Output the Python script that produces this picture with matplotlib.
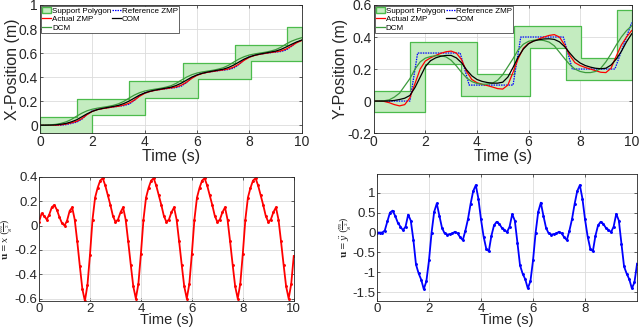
import numpy as np
import matplotlib
matplotlib.use("Agg")
import matplotlib.pyplot as plt
from matplotlib.patches import Patch

plt.rcParams['font.family'] = ['Liberation Sans', 'DejaVu Sans']
plt.rcParams['mathtext.fontset'] = 'dejavuserif'

# ---- footsteps (support polygon) ----
foot_t0 = [0.0, 1.4, 3.4, 5.45, 7.45, 9.45]
foot_t1 = [2.0, 4.0, 6.05, 8.05, 10.0, 10.0]
foot_x_lo = [-0.07, 0.085, 0.23, 0.385, 0.535, 0.68]
foot_x_hi = [0.07, 0.22, 0.37, 0.52, 0.67, 0.82]
foot_y_lo = [-0.065, 0.23, 0.03, 0.33, 0.13, 0.43]
foot_y_hi = [0.065, 0.37, 0.17, 0.47, 0.27, 0.57]

# ---- trajectories, sampled every 0.2 s ----
t_top = np.linspace(0, 10, 51)

com_x = [0.000, 0.000, 0.001, 0.003, 0.008, 0.015, 0.028, 0.045, 0.070, 0.095,
         0.115, 0.130, 0.140, 0.148, 0.156, 0.165, 0.180, 0.200, 0.225, 0.250,
         0.268, 0.282, 0.292, 0.300, 0.308, 0.316, 0.330, 0.350, 0.375, 0.400,
         0.418, 0.432, 0.442, 0.450, 0.458, 0.466, 0.480, 0.500, 0.525, 0.550,
         0.568, 0.582, 0.592, 0.600, 0.608, 0.616, 0.630, 0.650, 0.672, 0.692,
         0.708]
dcm_x = [0.000, 0.001, 0.003, 0.007, 0.015, 0.028, 0.048, 0.075, 0.100, 0.120,
         0.133, 0.142, 0.149, 0.156, 0.165, 0.178, 0.198, 0.225, 0.250, 0.270,
         0.284, 0.293, 0.300, 0.307, 0.316, 0.328, 0.348, 0.375, 0.400, 0.420,
         0.434, 0.443, 0.450, 0.457, 0.466, 0.478, 0.498, 0.525, 0.550, 0.570,
         0.584, 0.593, 0.600, 0.607, 0.616, 0.628, 0.648, 0.675, 0.698, 0.715,
         0.728]
zmp_x = [0.000, 0.000, 0.000, 0.000, 0.003, 0.010, 0.020, 0.032, 0.055, 0.088,
         0.115, 0.130, 0.138, 0.145, 0.152, 0.158, 0.168, 0.183, 0.208, 0.240,
         0.265, 0.280, 0.290, 0.297, 0.304, 0.310, 0.318, 0.333, 0.358, 0.390,
         0.415, 0.430, 0.440, 0.447, 0.454, 0.460, 0.468, 0.483, 0.508, 0.540,
         0.565, 0.580, 0.590, 0.597, 0.604, 0.610, 0.618, 0.633, 0.658, 0.685,
         0.705]
ref_x = [0.000, 0.000, 0.000, 0.000, 0.000, 0.005, 0.015, 0.025, 0.050, 0.090,
         0.120, 0.132, 0.140, 0.146, 0.152, 0.157, 0.163, 0.175, 0.205, 0.245,
         0.270, 0.282, 0.291, 0.297, 0.303, 0.308, 0.313, 0.325, 0.355, 0.395,
         0.420, 0.432, 0.441, 0.447, 0.453, 0.458, 0.463, 0.475, 0.505, 0.545,
         0.570, 0.582, 0.591, 0.597, 0.603, 0.608, 0.613, 0.625, 0.655, 0.690,
         0.705]

com_y = [0.000, 0.000, 0.000, 0.001, 0.004, 0.010, 0.018, 0.035, 0.085, 0.150,
         0.215, 0.252, 0.270, 0.280, 0.285, 0.285, 0.270, 0.240, 0.195, 0.158,
         0.135, 0.123, 0.116, 0.112, 0.112, 0.118, 0.150, 0.210, 0.275, 0.325,
         0.358, 0.375, 0.383, 0.388, 0.389, 0.385, 0.370, 0.340, 0.300, 0.263,
         0.238, 0.222, 0.212, 0.205, 0.202, 0.205, 0.225, 0.262, 0.310, 0.370,
         0.420]
dcm_y = [0.000, 0.000, 0.002, 0.008, 0.025, 0.050, 0.095, 0.140, 0.200, 0.245,
         0.268, 0.278, 0.283, 0.283, 0.276, 0.255, 0.220, 0.180, 0.145, 0.122,
         0.110, 0.105, 0.106, 0.112, 0.130, 0.165, 0.215, 0.265, 0.320, 0.355,
         0.373, 0.380, 0.382, 0.378, 0.368, 0.345, 0.305, 0.265, 0.228, 0.200,
         0.185, 0.178, 0.178, 0.185, 0.205, 0.245, 0.295, 0.350, 0.400, 0.440,
         0.470]
zmp_y = [0.000, 0.000, -0.002, -0.010, -0.022, -0.030, -0.022, 0.020, 0.110, 0.200,
         0.250, 0.270, 0.285, 0.298, 0.308, 0.312, 0.300, 0.260, 0.185, 0.135,
         0.115, 0.105, 0.097, 0.088, 0.078, 0.075, 0.100, 0.180, 0.265, 0.330,
         0.360, 0.375, 0.388, 0.400, 0.410, 0.415, 0.400, 0.350, 0.285, 0.240,
         0.222, 0.210, 0.200, 0.190, 0.180, 0.178, 0.205, 0.280, 0.350, 0.400,
         0.440]
# reference ZMP in y: corner points
ref_y_t = [0, 1.4, 1.7, 3.35, 3.7, 5.4, 5.7, 7.35, 7.7, 9.35, 10]
ref_y = [0.0, 0.0, 0.3, 0.3, 0.1, 0.1, 0.4, 0.4, 0.2, 0.2, 0.49]

# ---- inputs, sampled every 0.1 s ----
t_bot = np.linspace(0, 10, 101)
u_x = [0.03, 0.10, 0.08, 0.05, 0.09, 0.15, 0.17, 0.13, 0.07, 0.02,
       0.00, 0.04, 0.12, 0.15, 0.05, -0.13, -0.33, -0.52, -0.62, -0.49,
       -0.24, 0.05, 0.23, 0.31, 0.37, 0.39, 0.33, 0.25, 0.17, 0.08,
       0.03, 0.05, 0.11, 0.15, 0.05, -0.13, -0.32, -0.50, -0.60, -0.48,
       -0.23, 0.05, 0.23, 0.31, 0.37, 0.39, 0.33, 0.25, 0.17, 0.08,
       0.03, 0.05, 0.11, 0.15, 0.05, -0.13, -0.32, -0.50, -0.60, -0.48,
       -0.23, 0.05, 0.23, 0.31, 0.37, 0.39, 0.33, 0.25, 0.17, 0.08,
       0.03, 0.05, 0.11, 0.15, 0.05, -0.13, -0.32, -0.50, -0.60, -0.48,
       -0.23, 0.05, 0.23, 0.31, 0.37, 0.39, 0.33, 0.25, 0.17, 0.08,
       0.03, 0.05, 0.11, 0.15, 0.05, -0.13, -0.32, -0.50, -0.60, -0.48,
       -0.25]
u_y = [0.00, 0.00, 0.00, 0.05, 0.28, 0.50, 0.55, 0.42, 0.25, 0.15,
       0.06, 0.15, 0.45, 0.30, -0.18, -0.80, -1.02, -1.18, -1.42, -1.22,
       -0.70, 0.00, 0.52, 0.73, 0.42, 0.12, -0.02, -0.05, -0.04, -0.02,
       0.02, -0.02, -0.12, -0.19, 0.05, 0.34, 0.72, 1.04, 1.19, 0.85,
       0.33, -0.10, -0.40, -0.47, -0.08, 0.18, 0.27, 0.22, 0.12, 0.07,
       0.01, 0.15, 0.46, 0.30, -0.25, -0.82, -1.03, -1.17, -1.40, -1.22,
       -0.70, 0.00, 0.52, 0.75, 0.42, 0.12, -0.02, -0.05, -0.04, -0.02,
       0.02, -0.02, -0.12, -0.19, 0.05, 0.34, 0.72, 1.04, 1.19, 0.85,
       0.33, -0.10, -0.40, -0.47, -0.08, 0.18, 0.27, 0.22, 0.12, 0.07,
       0.01, 0.15, 0.47, 0.30, -0.28, -0.85, -1.03, -1.17, -1.40, -1.25,
       -0.78]

poly_face = '#c4ecc0'
poly_edge = '#4cbb4c'
dcm_col = '#3c9a3c'
txt = '#262626'


def envelope(lo, hi):
    # union of the active feet at each instant
    edges = sorted(set(foot_t0 + foot_t1))
    lower, upper = [], []
    for a in edges:
        act = [i for i in range(len(foot_t0)) if foot_t0[i] <= a < foot_t1[i]]
        if not act:
            act = [i for i in range(len(foot_t0)) if foot_t0[i] < a <= foot_t1[i]]
        lower.append(min(lo[i] for i in act))
        upper.append(max(hi[i] for i in act))
    return edges, lower, upper


def style(ax, pad=2, size=10):
    ax.grid(True, color='#dcdcdc', linewidth=0.6)
    ax.set_axisbelow(True)
    ax.tick_params(direction='in', length=2.5, width=0.5, colors=txt,
                   labelsize=size, top=True, right=True, pad=pad)
    for s in ax.spines.values():
        s.set_color(txt)
        s.set_linewidth(0.6)


fig = plt.figure(figsize=(6.4, 3.32), dpi=100)
ax1 = fig.add_axes([0.0625, 0.599, 0.409, 0.386])
ax2 = fig.add_axes([0.584, 0.599, 0.403, 0.386])
ax3 = fig.add_axes([0.061, 0.093, 0.398, 0.374])
ax4 = fig.add_axes([0.589, 0.093, 0.406, 0.383])

# top-left: x position
e, lo, hi = envelope(foot_x_lo, foot_x_hi)
ax1.fill_between(e, lo, hi, step='post', facecolor=poly_face, edgecolor=poly_edge, linewidth=0.9)
ax1.plot(t_top, ref_x, color='blue', linestyle=(0, (1.2, 0.8)), linewidth=0.9)
ax1.plot(t_top, zmp_x, color='red', linewidth=0.9)
ax1.plot(t_top, dcm_x, color=dcm_col, linewidth=0.9)
ax1.plot(t_top, com_x, color='black', linewidth=0.9)
ax1.set_xlim(0, 10)
ax1.set_ylim(-0.066, 1)
ax1.set_xticks([0, 2, 4, 6, 8, 10])
ax1.set_yticks([0, 0.2, 0.4, 0.6, 0.8, 1])
ax1.set_yticklabels(['0', '0.2', '0.4', '0.6', '0.8', '1'])
ax1.set_ylabel('X-Position (m)', fontsize=11.5, color=txt)
ax1.yaxis.set_label_coords(-0.075, 0.5)
ax1.set_xlabel('Time (s)', fontsize=11.5, color=txt, labelpad=0)

# top-right: y position
e, lo, hi = envelope(foot_y_lo, foot_y_hi)
ax2.fill_between(e, lo, hi, step='post', facecolor=poly_face, edgecolor=poly_edge, linewidth=0.9)
ax2.plot(ref_y_t, ref_y, color='blue', linestyle=(0, (1.2, 0.8)), linewidth=0.9)
ax2.plot(t_top, zmp_y, color='red', linewidth=0.9)
ax2.plot(t_top, dcm_y, color=dcm_col, linewidth=0.9)
ax2.plot(t_top, com_y, color='black', linewidth=0.9)
ax2.set_xlim(0, 10)
ax2.set_ylim(-0.2, 0.6)
ax2.set_xticks([0, 2, 4, 6, 8, 10])
ax2.set_yticks([-0.2, 0, 0.2, 0.4, 0.6])
ax2.set_yticklabels(['-0.2', '0', '0.2', '0.4', '0.6'])
ax2.set_ylabel('Y-Position (m)', fontsize=11.5, color=txt)
ax2.yaxis.set_label_coords(-0.1, 0.5)
ax2.set_xlabel('Time (s)', fontsize=11.5, color=txt, labelpad=0)

for ax in (ax1, ax2):
    style(ax, pad=1.5)
    handles = [Patch(facecolor=poly_face, edgecolor=poly_edge),
               plt.Line2D([], [], color='red', lw=0.9),
               plt.Line2D([], [], color=dcm_col, lw=0.9),
               plt.Line2D([], [], color='blue', lw=0.9, ls=(0, (1.2, 0.8))),
               plt.Line2D([], [], color='black', lw=0.9)]
    labels = ['Support Polygon', 'Actual ZMP', 'DCM', 'Reference ZMP', 'COM']
    leg = ax.legend(handles, labels, loc='upper left', ncol=2, fontsize=5.8,
                    frameon=True, fancybox=False, borderaxespad=0.15,
                    handlelength=1.1, handleheight=0.6, handletextpad=0.1,
                    columnspacing=0.1, labelspacing=0.12, borderpad=0.15)
    leg.get_frame().set_edgecolor(txt)
    leg.get_frame().set_linewidth(0.5)
    leg.get_frame().set_alpha(1)

# bottom-left: x acceleration
ax3.plot(t_bot, u_x, color='red', linewidth=1.3, marker='.', markersize=2.2)
ax3.set_xlim(0, 10)
ax3.set_ylim(-0.621, 0.4)
ax3.set_xticks([0, 2, 4, 6, 8, 10])
ax3.set_yticks([-0.6, -0.4, -0.2, 0, 0.2, 0.4])
ax3.set_yticklabels(['-0.6', '-0.4', '-0.2', '0', '0.2', '0.4'])
ax3.set_ylabel(r'$\mathbf{u}=\ddot{x}\ (\frac{m}{s^2})$', fontsize=6.5, color=txt)
ax3.yaxis.set_label_coords(-0.094, 0.5)
ax3.set_xlabel('Time (s)', fontsize=10.5, color=txt, labelpad=-1)
style(ax3, pad=1, size=9.5)

# bottom-right: y acceleration
ax4.plot(t_bot, u_y, color='blue', linewidth=1.3, marker='.', markersize=2.2)
ax4.set_xlim(0, 9.99)
ax4.set_ylim(-1.72, 1.47)
ax4.set_xticks([0, 2, 4, 6, 8])
ax4.set_yticks([-1.5, -1, -0.5, 0, 0.5, 1])
ax4.set_yticklabels(['-1.5', '-1', '-0.5', '0', '0.5', '1'])
ax4.set_ylabel(r'$\mathbf{u}=\ddot{y}\ (\frac{m}{s^2})$', fontsize=6.5, color=txt)
ax4.yaxis.set_label_coords(-0.09, 0.5)
ax4.set_xlabel('Time (s)', fontsize=10.5, color=txt, labelpad=-1)
style(ax4, pad=1, size=9.5)

fig.savefig('out.png', dpi=100)
plt.close(fig)
